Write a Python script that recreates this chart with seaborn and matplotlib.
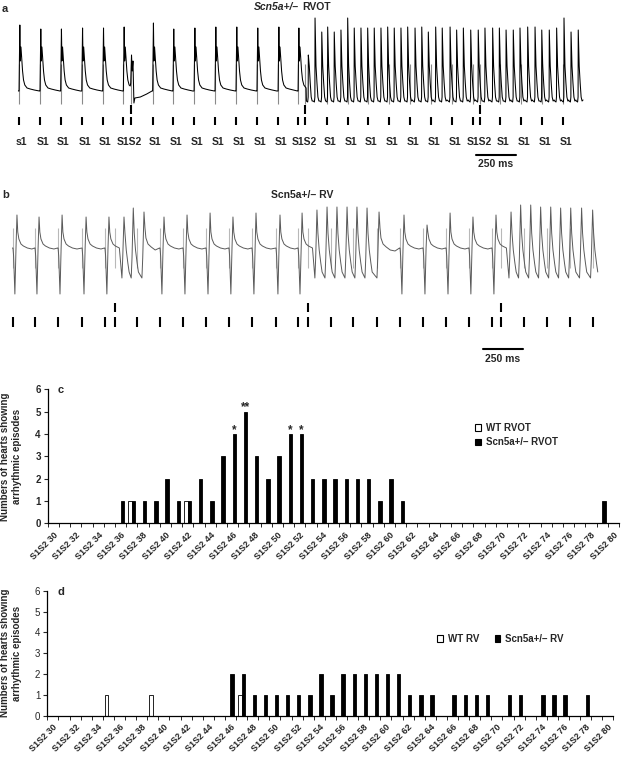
import numpy as np
import pandas as pd
import matplotlib
matplotlib.use("Agg")
import matplotlib.pyplot as plt
import seaborn as sns
from matplotlib.patches import Patch

# ---------------------------------------------------------------- data
# Panel a : Scn5a+/- RVOT trace (time in ms, amplitude in a.u. above baseline)
a_s1 = [119, 250, 379, 511, 642, 771, 954, 1081, 1213, 1344, 1475, 1606, 1738,
        1863, 2044, 2175, 2300, 2431, 2563, 2694, 2825, 2956, 3125, 3256, 3388, 3519]
a_s2 = [817, 1906, 3000]
a_labels = ["s1", "S1", "S1", "S1", "S1", "S1S2", "S1", "S1", "S1", "S1", "S1", "S1",
            "S1", "S1S2", "S1", "S1", "S1", "S1", "S1", "S1", "S1", "S1S2",
            "S1", "S1", "S1", "S1"]
a_beat_times = [119, 250, 379, 511, 642, 771, 954, 1081, 1213, 1344, 1475, 1606, 1738, 1863]
a_beat_amps = [66, 62, 62, 63, 63, 64, 68, 62, 63, 64, 64, 63, 64, 63]
a_s2beat_times = [817]
a_s2beat_amps = [36]
a_vt_times = [1927, 1969, 2011, 2048, 2089, 2131, 2173, 2214, 2256, 2298,
              2339, 2381, 2423, 2464, 2506, 2548, 2594, 2636, 2677, 2723,
              2764, 2813, 2854, 2896, 2942, 2989, 3031, 3079, 3121, 3163,
              3208, 3250, 3298, 3344, 3386, 3433, 3479, 3525, 3569, 3614]
a_vt_amps = [36, 73, 59, 64, 59, 61, 73, 63, 63, 63,
             63, 63, 64, 63, 63, 64, 63, 64, 59, 64,
             63, 64, 61, 63, 61, 61, 63, 63, 63, 61,
             61, 63, 64, 64, 61, 61, 63, 73, 59, 61]
# beat shapes: (ms offsets, amplitudes; None = beat peak)
a_beat_shape = ([-4, 0, 5, 8, 12, 16, 22, 28, 36, 50, 70, 95, 124],
                [0, 0, None, 30, 44, 34, 20, 11, 6, 3, 2, 1, 0])
a_s2_shape = ([-3, 0, 5, 9, 14, 20, 26, 60, 100, 133],
              [5, 8, None, 20, 30, -12, -7, -6, -3, 0])
a_vt_shape = ([-12, -4, -1, 0, 6, 12, 18, 24, 30],
              [-10, -11, -6, None, 25, 8, -6, -10, -9])

# Panel b : Scn5a+/- RV trace
b_s1 = [81, 219, 363, 513, 656, 856, 1000, 1144, 1288, 1431, 1575, 1725, 1863,
        2069, 2206, 2356, 2500, 2644, 2788, 2931, 3075, 3275, 3419, 3563, 3706]
b_s2 = [719, 1925, 3131]
b_beat_times = [81, 219, 363, 513, 656, 1000, 1144, 1288, 1431, 1575, 1725, 1863,
                2500, 2644, 2788, 2931, 3075]
b_beat_amps = [33, 31, 33, 31, 31, 31, 33, 35, 31, 35, 33, 35, 33, 23, 35, 31, 33]
b_vt_times = [775, 833, 1981, 2044, 2106, 2169, 2231, 2294,
              3194, 3254, 3317, 3379, 3442, 3504, 3567, 3635, 3704]
b_vt_amps = [31, 40, 38, 41, 41, 41, 41, 40, 36, 43, 43, 41, 41, 40, 40, 40, 38]
b_tail_times = [900, 2369]
b_tail_amps = [36, 36]
b_beat_shape = ([-3, 0, 4, 12, 19, 25, 30, 37, 50, 65, 90, 118],
                [0, 0, -8, -46, 0, None, 16, 9, 4, 2, 0, -1])
b_vt_shape = ([-13, -8, 0, 6, 14, 24, 32],
              [-30, -10, None, 15, -2, -15, -24])
b_tail_shape = ([-13, -8, 0, 6, 12, 25, 45, 70, 100],
                [-30, -10, None, 20, 10, 4, 1, -2, -3])

# Panels c / d : bar charts
intervals = list(range(30, 81))
categories = [f"S1S2 {v}" for v in intervals]
c_wt = [0, 0, 0, 0, 0, 0,
        0, 1, 0, 0, 0, 0, 1, 0, 0, 0,
        0, 0, 0, 0, 0, 0, 0, 0, 0, 0,
        0, 0, 0, 0, 0, 0, 0, 0, 0, 0,
        0, 0, 0, 0, 0, 0, 0, 0, 0, 0,
        0, 0, 0, 0, 0]
c_scn = [0, 0, 0, 0, 0, 0,
         1, 1, 1, 1, 2, 1, 1, 2, 1, 3,
         4, 5, 3, 2, 3, 4, 4, 2, 2, 2,
         2, 2, 2, 1, 2, 1, 0, 0, 0, 0,
         0, 0, 0, 0, 0, 0, 0, 0, 0, 0,
         0, 0, 0, 1, 0]
c_sig_intervals = [46, 47, 51, 52]
c_sig_marks = ["*", "**", "*", "*"]
d_wt = [0, 0, 0, 0, 0, 1,
        0, 0, 0, 1, 0, 0, 0, 0, 0, 0,
        0, 1, 0, 0, 0, 0, 0, 0, 0, 0,
        0, 0, 0, 0, 0, 0, 0, 0, 0, 0,
        0, 0, 0, 0, 0, 0, 0, 0, 0, 0,
        0, 0, 0, 0, 0]
d_scn = [0, 0, 0, 0, 0, 0,
         0, 0, 0, 0, 0, 0, 0, 0, 0, 0,
         2, 2, 1, 1, 1, 1, 1, 1, 2, 1,
         2, 2, 2, 2, 2, 2, 1, 1, 1, 0,
         1, 1, 1, 1, 0, 1, 1, 0, 1, 1,
         1, 0, 1, 0, 0]

# ---------------------------------------------------------------- helpers
W, H = 621, 757
MS_PER_PX = 6.25


def fx(x):
    return x / W


def fy(y):
    return 1 - y / H


def box(x0, y0, x1, y1):
    return [x0 / W, 1 - y1 / H, (x1 - x0) / W, (y1 - y0) / H]


def build_trace(events, shapes):
    events = sorted(events, key=lambda e: e[0])
    starts = [t + shapes[k][0][0] for t, k, _ in events]
    xs, ys = [], []
    for i, (t, k, amp) in enumerate(events):
        dts, vals = shapes[k]
        limit = starts[i + 1] if i + 1 < len(events) else np.inf
        for d, v in zip(dts, vals):
            if t + d < limit:
                xs.append(t + d)
                ys.append(amp if v is None else v)
    return pd.DataFrame({"t": xs, "v": ys})


sns.set_style("ticks")
plt.rcParams["font.family"] = ["Liberation Sans", "DejaVu Sans"]
plt.rcParams["font.weight"] = "bold"

fig = plt.figure(figsize=(6.21, 7.57), dpi=100)
BOLD = dict(fontweight="bold")

# ---------------------------------------------------------------- panel a
ax_a = fig.add_axes(box(0, 0, W, 170))
ev_a = ([(t, "beat", a) for t, a in zip(a_beat_times, a_beat_amps)]
        + [(t, "s2", a) for t, a in zip(a_s2beat_times, a_s2beat_amps)]
        + [(t, "vt", a) for t, a in zip(a_vt_times, a_vt_amps)])
tr_a = build_trace(ev_a, {"beat": a_beat_shape, "s2": a_s2_shape, "vt": a_vt_shape})
ax_a.vlines(sorted(a_s1 + a_s2), -13, 27, color="#8a8a8a", lw=0.8, zorder=1)
sns.lineplot(data=tr_a, x="t", y="v", ax=ax_a, color="black", lw=0.75,
             sort=False, estimator=None, zorder=2)
ax_a.vlines(sorted(a_s1 + a_s2), -34, -26, color="black", lw=1.5)
ax_a.vlines(a_s2, -23, -14, color="black", lw=1.5)
for lab, t in zip(a_labels, a_s1):
    x = t
    if lab == "S1S2":
        partner = min(a_s2, key=lambda s: abs(s - t))
        x = (t + partner) / 2
    ax_a.annotate(lab, (x, -51), xytext=(2, 0), textcoords="offset points",
                  ha="center", va="center", fontsize=7.5, **BOLD)
ax_a.plot([476 * MS_PER_PX, 516 * MS_PER_PX], [-64, -64], color="black", lw=1.5)
ax_a.text(496 * MS_PER_PX, -73, "250 ms", ha="center", va="center", fontsize=7.5, **BOLD)
ax_a.set_xlim(0, W * MS_PER_PX)
ax_a.set_ylim(91 - 170, 91)
ax_a.axis("off")
fig.text(fx(2), fy(9), "a", ha="left", va="center", fontsize=8, **BOLD)
fig.text(fx(299), fy(7), "Scn5a+/–", ha="right", va="center", fontsize=7.5,
         style="italic", **BOLD)
fig.text(fx(302), fy(7), "RVOT", ha="left", va="center", fontsize=7.5, **BOLD)

# ---------------------------------------------------------------- panel b
ax_b = fig.add_axes(box(0, 170, W, 370))
ev_b = ([(t, "beat", a) for t, a in zip(b_beat_times, b_beat_amps)]
        + [(t, "vt", a) for t, a in zip(b_vt_times, b_vt_amps)]
        + [(t, "tail", a) for t, a in zip(b_tail_times, b_tail_amps)])
tr_b = build_trace(ev_b, {"beat": b_beat_shape, "vt": b_vt_shape, "tail": b_tail_shape})
ax_b.vlines(sorted(b_s1 + b_s2), -20, 20, color="#b8b8b8", lw=0.8, zorder=1)
sns.lineplot(data=tr_b, x="t", y="v", ax=ax_b, color="#5a5a5a", lw=0.7,
             sort=False, estimator=None, zorder=2)
ax_b.vlines(sorted(b_s1 + b_s2), -79, -69, color="black", lw=1.5)
ax_b.vlines(b_s2, -64, -55, color="black", lw=1.5)
ax_b.plot([483 * MS_PER_PX, 523 * MS_PER_PX], [-101, -101], color="black", lw=1.5)
ax_b.text(503 * MS_PER_PX, -111, "250 ms", ha="center", va="center", fontsize=7.5, **BOLD)
ax_b.set_xlim(0, W * MS_PER_PX)
ax_b.set_ylim(248 - 370, 248 - 170)
ax_b.axis("off")
fig.text(fx(2), fy(195), "b", ha="left", va="center", fontsize=8, **BOLD)
fig.text(fx(302), fy(195), "Scn5a+/– RV", ha="center", va="center", fontsize=7.5, **BOLD)


# ---------------------------------------------------------------- panels c, d
def bar_panel(rect, wt, scn, names, ytick_bold):
    ax = fig.add_axes(rect)
    df = pd.DataFrame({
        "interval": categories * 2,
        "group": [names[0]] * len(categories) + [names[1]] * len(categories),
        "count": wt + scn,
    })
    sns.barplot(data=df, x="interval", y="count", hue="group", order=categories,
                hue_order=names, palette=["white", "black"], saturation=1,
                edgecolor="black", linewidth=0.6, width=0.62, legend=False, ax=ax)
    ax.set_xlim(-0.5, len(categories) - 0.5)
    ax.set_ylim(0, 6)
    ax.set_yticks(range(7))
    ax.set_yticklabels([str(i) for i in range(7)], fontsize=7,
                       fontweight="bold" if ytick_bold else "normal")
    ax.set_xticks(range(0, len(categories), 2))
    ax.set_xticklabels(categories[::2], rotation=45, ha="right", va="top",
                       rotation_mode="anchor", fontsize=6.5, fontweight="bold")
    ax.set_xticks(np.arange(-0.5, len(categories), 1), minor=True)
    ax.tick_params(axis="x", which="major", length=0, pad=5)
    ax.tick_params(axis="x", which="minor", length=3, width=0.7, direction="out")
    ax.tick_params(axis="y", length=3, width=0.8, pad=2)
    ax.set_xlabel("")
    ax.set_ylabel("Numbers of hearts showing\narrhythmic episodes", fontsize=7,
                  fontweight="bold")
    ax.yaxis.set_label_coords(-0.045, 0.5)
    sns.despine(ax=ax)
    for s in ("left", "bottom"):
        ax.spines[s].set_linewidth(0.9)
        ax.spines[s].set_color("black")
    return ax


c_names = ["WT RVOT", "Scn5a+/– RVOT"]
ax_c = bar_panel(box(47.7, 389.3, 619, 523.3), c_wt, c_scn, c_names, True)
for v, m in zip(c_sig_intervals, c_sig_marks):
    bar = ax_c.containers[1][intervals.index(v)]
    ax_c.text(bar.get_x() + bar.get_width() / 2, bar.get_height() + 0.05, m,
              ha="center", va="baseline", fontsize=8.5, **BOLD)
handles = [Patch(facecolor="white", edgecolor="black", lw=0.8),
           Patch(facecolor="black", edgecolor="black", lw=0.8)]
ax_c.legend(handles, c_names, loc="upper left", bbox_to_anchor=(fx(475), fy(423)),
            bbox_transform=fig.transFigure, frameon=False, ncol=1,
            prop=dict(size=7, weight="bold"), handlelength=0.6, handleheight=0.6,
            handletextpad=0.5, labelspacing=0.45, borderpad=0, borderaxespad=0)
fig.text(fx(58), fy(390), "c", ha="left", va="center", fontsize=8, **BOLD)

d_names = ["WT RV", "Scn5a+/– RV"]
ax_d = bar_panel(box(47.3, 590.7, 613.4, 715.7), d_wt, d_scn, d_names, False)
ax_d.legend(handles, d_names, loc="center left", bbox_to_anchor=(fx(437), fy(639)),
            bbox_transform=fig.transFigure, frameon=False, ncol=2,
            prop=dict(size=7, weight="bold"), handlelength=0.6, handleheight=0.6,
            handletextpad=0.5, columnspacing=1.6, borderpad=0, borderaxespad=0)
fig.text(fx(58), fy(592), "d", ha="left", va="center", fontsize=8, **BOLD)

fig.savefig("out.png", dpi=100)
